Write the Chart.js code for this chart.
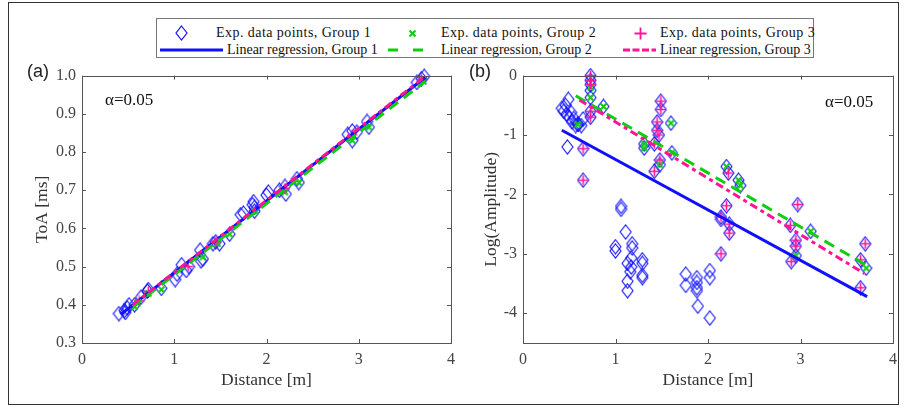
<!DOCTYPE html>
<html>
<head>
<meta charset="utf-8">
<script src="https://cdn.jsdelivr.net/npm/chart.js@4.4.1/dist/chart.umd.min.js"></script>
<style>
  html, body { margin: 0; padding: 0; background: #fff; }
  #fig { position: relative; width: 904px; height: 407px; overflow: hidden; font-family: "Liberation Serif", serif; color: #222; }
  #frame { position: absolute; left: 8px; top: 2px; width: 891px; height: 403px; border: 1px solid #333; box-sizing: border-box; }
  #legend { position: absolute; left: 156px; top: 18px; width: 658px; height: 40px; border: 1px solid #777; box-sizing: border-box; background: #fff; }
  .lg { position: absolute; font-size: 14px; line-height: 18px; white-space: nowrap; color: #111; }
  .lg.r0 { letter-spacing: 0.45px; }
  .ic { position: absolute; }
  canvas { position: absolute; }
  .lbl { position: absolute; white-space: nowrap; }
  .panel { font-family: "Liberation Sans", Arial, sans-serif; font-size: 18px; }
  .alpha { font-size: 17px; color: #111; }
</style>
</head>
<body>
<div id="fig">
  <div id="frame"></div>
  <canvas id="toaChart" width="462" height="347" style="left:0;top:60px"></canvas>
  <canvas id="ampChart" width="442" height="347" style="left:462px;top:60px"></canvas>

  <div id="legend"></div>

  <div class="lbl panel" style="left:27px;top:61px">(a)</div>
  <div class="lbl panel" style="left:469px;top:61px">(b)</div>
  <div class="lbl alpha" style="left:105px;top:90px">α=0.05</div>
  <div class="lbl alpha" style="left:825px;top:92px">α=0.05</div>
</div>

<script>
// ---- panel (a): ToA vs distance ----
const toaDist1 = [0.40, 0.46, 0.49, 0.47, 0.51, 0.57, 0.64, 0.71, 0.72, 0.86, 1.01, 1.03, 1.08, 1.13, 1.16, 1.28, 1.29, 1.31,
  1.42, 1.45, 1.49, 1.60, 1.72, 1.75, 1.85, 1.86, 1.87, 1.87, 2.00, 2.02, 2.14, 2.20, 2.21, 2.33, 2.35,
  2.88, 2.93, 2.93, 2.98, 3.09, 3.11, 3.63, 3.68, 3.71];
const toaVal1 = [0.377, 0.385, 0.392, 0.380, 0.400, 0.400, 0.420, 0.436, 0.440, 0.443, 0.466, 0.480, 0.505, 0.490, 0.500, 0.543, 0.515, 0.520,
  0.560, 0.565, 0.560, 0.585, 0.636, 0.640, 0.662, 0.670, 0.655, 0.645, 0.687, 0.695, 0.700, 0.710, 0.690, 0.730, 0.720,
  0.846, 0.855, 0.830, 0.852, 0.880, 0.865, 0.982, 0.992, 0.998];
const toaDist2 = [0.57, 0.60, 0.72, 0.86, 1.31, 1.47, 1.60, 1.88, 2.20, 2.35, 2.93, 3.11, 3.70];
const toaVal2 = [0.395, 0.405, 0.430, 0.440, 0.525, 0.560, 0.585, 0.645, 0.695, 0.720, 0.830, 0.865, 0.985];
const toaDist3 = [0.62, 0.72, 1.15, 1.45, 2.20, 2.93, 3.68];
const toaVal3 = [0.410, 0.435, 0.500, 0.565, 0.705, 0.845, 0.990];
// regression line end points
const toaFitDist1 = [0.42, 3.72], toaFitVal1 = [0.375, 0.995];
const toaFitDist2 = [0.55, 3.72], toaFitVal2 = [0.395, 0.985];
const toaFitDist3 = [0.55, 3.70], toaFitVal3 = [0.400, 0.994];

// ---- panel (b): log amplitude vs distance ----
const ampDist1 = [0.42, 0.44, 0.46, 0.49, 0.47, 0.50, 0.52, 0.53, 0.55, 0.57, 0.60, 0.63, 0.65, 0.48,
  0.65, 0.65, 0.73, 0.73, 0.73, 0.73, 0.73, 0.73, 0.73, 0.87, 0.59,
  1.00, 1.00, 1.06, 1.06, 1.11, 1.13, 1.13, 1.13, 1.17, 1.18, 1.18, 1.17, 1.16, 1.29, 1.29, 1.29, 1.29,
  1.31, 1.31, 1.42, 1.42, 1.49, 1.49, 1.45, 1.45, 1.47, 1.48, 1.48, 1.60, 1.61,
  1.76, 1.76, 1.88, 1.88, 1.88, 1.88, 1.89, 2.02, 2.02, 2.02,
  2.14, 2.14, 2.20, 2.22, 2.20, 2.23, 2.23, 2.14, 2.33, 2.35,
  2.89, 2.90, 2.97, 2.95, 2.95, 2.95, 3.11, 3.65, 3.70, 3.71, 3.65];
const ampVal1 = [-0.55, -0.60, -0.50, -0.40, -0.65, -0.70, -0.62, -0.78, -0.72, -0.84, -0.82, -0.84, -0.73, -1.20,
  -1.23, -1.76, 0.00, -0.08, -0.15, -0.25, -0.37, -0.60, -0.70, -0.52, -0.82,
  -2.88, -2.95, -2.20, -2.25, -2.63, -3.16, -3.46, -3.62, -3.07, -2.83, -2.90, -3.22, -3.30, -3.10, -3.16, -3.36, -3.40,
  -1.15, -1.22, -1.15, -1.61, -0.43, -0.57, -0.78, -0.92, -1.00, -1.42, -1.50, -0.80, -1.30,
  -3.34, -3.53, -3.40, -3.48, -3.57, -3.62, -3.88, -3.28, -3.40, -4.08,
  -2.38, -3.00, -1.53, -1.64, -2.19, -2.50, -2.65, -2.42, -1.76, -1.85,
  -2.52, -3.13, -2.17, -2.77, -2.87, -3.03, -2.62, -3.10, -2.83, -3.24, -3.57];
const ampDist2 = [0.59, 0.73, 0.73, 0.87, 1.31, 1.31, 1.48, 1.60, 1.61, 2.20, 2.33, 2.35, 2.95, 3.11, 3.71];
const ampVal2 = [-0.82, -0.20, -0.37, -0.52, -1.15, -1.22, -1.50, -0.80, -1.30, -1.53, -1.76, -1.85, -3.03, -2.62, -3.24];
const ampDist3 = [0.65, 0.65, 0.73, 0.73, 0.73, 0.73, 0.73, 1.42, 1.42, 1.49, 1.49, 1.45, 1.45, 1.47, 1.48,
  2.14, 2.14, 2.20, 2.23, 2.23, 2.22, 2.89, 2.90, 2.97, 2.95, 2.95, 3.65, 3.70, 3.65];
const ampVal3 = [-1.23, -1.76, 0.00, -0.08, -0.15, -0.60, -0.70, -1.15, -1.61, -0.43, -0.57, -0.78, -0.92, -1.00, -1.42,
  -2.38, -3.00, -2.19, -2.50, -2.65, -1.64, -2.52, -3.13, -2.17, -2.77, -2.87, -3.10, -2.83, -3.57];
const ampFitDist1 = [0.42, 3.72], ampFitVal1 = [-0.92, -3.72];
const ampFitDist2 = [0.57, 3.72], ampFitVal2 = [-0.34, -3.20];
const ampFitDist3 = [0.61, 3.69], ampFitVal3 = [-0.41, -3.33];

// tick labels
const distTicks = [0, 1, 2, 3, 4];
const toaTicks = [0.3, 0.4, 0.5, 0.6, 0.7, 0.8, 0.9, 1.0];
const ampTicks = [-4, -3, -2, -1, 0];

const BLUE = "#1010ff", GREEN = "#11cc11", PINK = "#ff1493";

function pts(xs, ys) {
  return xs.map((x, i) => ({ x: x, y: ys[i] }));
}

// marker images
function marker(w, h, draw) {
  const c = document.createElement("canvas");
  c.width = w; c.height = h;
  draw(c.getContext("2d"));
  return c;
}
const diamondImg = marker(13, 16, g => {
  g.strokeStyle = BLUE; g.lineWidth = 1.1;
  g.beginPath(); g.moveTo(6.5, 1); g.lineTo(12, 8); g.lineTo(6.5, 15); g.lineTo(1, 8); g.closePath(); g.stroke();
});
const crossImg = marker(9, 9, g => {
  g.strokeStyle = GREEN; g.lineWidth = 2;
  g.beginPath(); g.moveTo(1.5, 1.5); g.lineTo(7.5, 7.5); g.moveTo(7.5, 1.5); g.lineTo(1.5, 7.5); g.stroke();
});
const plusImg = marker(11, 11, g => {
  g.strokeStyle = PINK; g.lineWidth = 1.6;
  g.beginPath(); g.moveTo(5.5, 0.5); g.lineTo(5.5, 10.5); g.moveTo(0.5, 5.5); g.lineTo(10.5, 5.5); g.stroke();
});

// box + inward ticks like the original figure
const boxTicks = {
  id: "boxTicks",
  afterDraw(chart) {
    const { ctx, chartArea: a, scales } = chart;
    const sx = scales.x, sy = scales.y;
    ctx.save();
    ctx.strokeStyle = "#555";
    ctx.lineWidth = 1;
    ctx.strokeRect(Math.round(a.left) + 0.5, Math.round(a.top) + 0.5, Math.round(a.width), Math.round(a.height));
    ctx.beginPath();
    sx.ticks.forEach(t => {
      const p = Math.round(sx.getPixelForValue(t.value)) + 0.5;
      ctx.moveTo(p, a.bottom); ctx.lineTo(p, a.bottom - 4);
      ctx.moveTo(p, a.top); ctx.lineTo(p, a.top + 4);
    });
    sy.ticks.forEach(t => {
      const p = Math.round(sy.getPixelForValue(t.value)) + 0.5;
      ctx.moveTo(a.left, p); ctx.lineTo(a.left + 4, p);
      ctx.moveTo(a.right, p); ctx.lineTo(a.right - 4, p);
    });
    ctx.stroke();
    ctx.restore();
  }
};

const tickFont = { family: "Liberation Serif", size: 16 };
const titleFont = { family: "Liberation Serif", size: 17.5 };

function fitLine(xs, ys, color, dash) {
  return {
    type: "line", data: pts(xs, ys), showLine: true, borderColor: color, borderWidth: 3,
    borderDash: dash, pointRadius: 0, fill: false
  };
}
function scatter(xs, ys, img) {
  return { type: "scatter", data: pts(xs, ys), pointStyle: img, pointRadius: 6, clip: false };
}

function makeChart(id, datasets, yMin, yMax, yTicks, yTitle, yWidth, yTitlePad, padRight, yFmt) {
  return new Chart(document.getElementById(id), {
    type: "scatter",
    data: { datasets: datasets },
    options: {
      responsive: false,
      animation: false,
      layout: { padding: { top: 10, right: padRight, left: 0, bottom: 0 } },
      plugins: { legend: { display: false }, tooltip: { enabled: false } },
      scales: {
        x: {
          type: "linear", min: 0, max: 4,
          afterBuildTicks: s => { s.ticks = distTicks.map(v => ({ value: v })); },
          afterFit: s => { s.height = 64; },
          grid: { display: false, drawTicks: false },
          border: { display: false },
          ticks: { color: "#444", font: tickFont, padding: 7, maxRotation: 0 },
          title: { display: true, text: "Distance [m]", color: "#333", font: titleFont, padding: { top: 0, bottom: 16 } }
        },
        y: {
          type: "linear", min: yMin, max: yMax,
          afterBuildTicks: s => { s.ticks = yTicks.map(v => ({ value: v })); },
          afterFit: s => { s.width = yWidth; },
          grid: { display: false, drawTicks: false },
          border: { display: false },
          ticks: { color: "#444", font: tickFont, padding: 6, callback: yFmt },
          title: { display: true, text: yTitle, color: "#333", font: titleFont, padding: { top: yTitlePad, bottom: 0 } }
        }
      }
    },
    plugins: [boxTicks]
  });
}

makeChart("toaChart", [
  fitLine(toaFitDist3, toaFitVal3, PINK, [8, 4, 4, 4]),
  fitLine(toaFitDist2, toaFitVal2, GREEN, [11, 7]),
  fitLine(toaFitDist1, toaFitVal1, BLUE, []),
  scatter(toaDist3, toaVal3, plusImg),
  scatter(toaDist2, toaVal2, crossImg),
  scatter(toaDist1, toaVal1, diamondImg)
], 0.3, 1.0, toaTicks, "ToA [ms]", 82, 32, 5, v => Number(v).toFixed(1));

makeChart("ampChart", [
  fitLine(ampFitDist3, ampFitVal3, PINK, [8, 4, 4, 4]),
  fitLine(ampFitDist2, ampFitVal2, GREEN, [11, 7]),
  fitLine(ampFitDist1, ampFitVal1, BLUE, []),
  scatter(ampDist3, ampVal3, plusImg),
  scatter(ampDist2, ampVal2, crossImg),
  scatter(ampDist1, ampVal1, diamondImg)
], -4.5, 0, ampTicks, "Log(Amplitude)", 61, 19, 8, v => String(v));

// legend (positions relative to the legend box)
const legendItems = [
  { text: "Exp. data points, Group 1", icon: "diamond", iconX: 24, textX: 59, row: 0 },
  { text: "Exp. data points, Group 2", icon: "cross", iconX: 255, textX: 284, row: 0 },
  { text: "Exp. data points, Group 3", icon: "plus", iconX: 483, textX: 503, row: 0 },
  { text: "Linear regression, Group 1", icon: "solid", iconX: 3, iconW: 63, textX: 70, row: 1 },
  { text: "Linear regression, Group 2", icon: "dash", iconX: 231, iconW: 35, textX: 284, row: 1 },
  { text: "Linear regression, Group 3", icon: "dashdot", iconX: 466, iconW: 33, textX: 503, row: 1 }
];
const legend = document.getElementById("legend");
legendItems.forEach(it => {
  const cy = it.row === 0 ? 14 : 31;
  const t = document.createElement("div");
  t.className = "lg r" + it.row;
  t.textContent = it.text;
  t.style.left = it.textX + "px";
  t.style.top = (cy - 9) + "px";
  legend.appendChild(t);
  let svg;
  if (it.icon === "diamond") {
    svg = `<svg class="ic" width="13" height="16" style="left:${it.iconX - 6}px;top:${cy - 8}px"><path d="M6.5 1 L12 8 L6.5 15 L1 8 Z" fill="none" stroke="${BLUE}" stroke-width="1.2"/></svg>`;
  } else if (it.icon === "cross") {
    svg = `<svg class="ic" width="9" height="9" style="left:${it.iconX - 4}px;top:${cy - 4}px"><path d="M1.5 1.5 L7.5 7.5 M7.5 1.5 L1.5 7.5" stroke="${GREEN}" stroke-width="2"/></svg>`;
  } else if (it.icon === "plus") {
    svg = `<svg class="ic" width="13" height="13" style="left:${it.iconX - 6}px;top:${cy - 6}px"><path d="M6.5 0.5 L6.5 12.5 M0.5 6.5 L12.5 6.5" stroke="${PINK}" stroke-width="1.8"/></svg>`;
  } else {
    const col = it.icon === "solid" ? BLUE : it.icon === "dash" ? GREEN : PINK;
    const dash = it.icon === "solid" ? "" : it.icon === "dash" ? "10 15" : "7 2.5";
    svg = `<svg class="ic" width="${it.iconW}" height="6" style="left:${it.iconX}px;top:${cy - 3}px"><line x1="0" y1="3" x2="${it.iconW}" y2="3" stroke="${col}" stroke-width="3" stroke-dasharray="${dash}"/></svg>`;
  }
  legend.insertAdjacentHTML("beforeend", svg);
});
</script>
</body>
</html>
